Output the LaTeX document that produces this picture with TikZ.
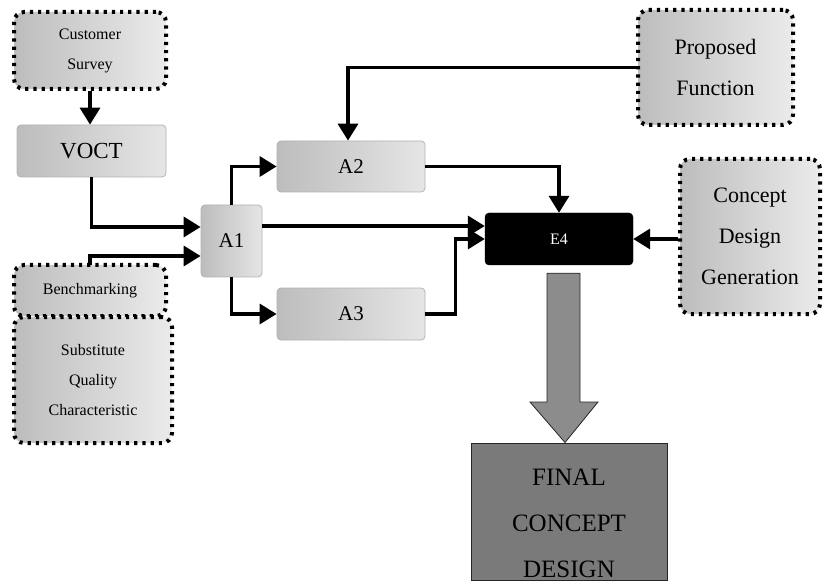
\documentclass[tikz,border=0pt]{standalone}
\usepackage{fontspec}
\setmainfont{Liberation Serif}
\usetikzlibrary{arrows.meta,shadings}
\definecolor{finalgray}{RGB}{122,122,122}
\definecolor{arrowgray}{RGB}{140,140,140}
\tikzset{
  dotbox/.style={draw=black, line width=4pt, dash pattern=on 3.2pt off 5pt, rounded corners=10pt,
    left color=gray!52, right color=gray!16, align=center, inner sep=0pt},
  solidbox/.style={draw=gray!60, line width=0.8pt, rounded corners=4pt,
    left color=gray!52, right color=gray!20, align=center, inner sep=0pt},
  blackbox/.style={draw=black, fill=black, rounded corners=4pt, text=white, inner sep=0pt},
  conn/.style={draw=black, line width=3.5pt, -{Triangle[length=17pt,width=20pt]}},
  small/.style={font=\fontsize{16}{30}\selectfont},
  mid/.style={font=\fontsize{22}{41}\selectfont},
  big/.style={font=\fontsize{25}{46}\selectfont}
}
\begin{document}
\begin{tikzpicture}[x=1pt,y=-1pt]
\useasboundingbox (0,0) rectangle (823,583);
% nodes
\node[dotbox, small, minimum width=152pt, minimum height=77pt] (cs) at (90,50.5) {Customer\\Survey};
\node[solidbox, font=\fontsize{23}{28}\selectfont, minimum width=149pt, minimum height=52pt] (voct) at (91.5,151) {VOCT};
\node[solidbox, font=\fontsize{21}{26}\selectfont, minimum width=61pt, minimum height=72pt] (a1) at (231.5,241) {A1};
\node[dotbox, small, minimum width=152pt, minimum height=51pt] (bm) at (90,290.5) {Benchmarking};
\node[dotbox, small, minimum width=158pt, minimum height=126pt] (sqc) at (93,380) {Substitute\\Quality\\Characteristic};
\node[solidbox, font=\fontsize{21}{26}\selectfont, minimum width=148pt, minimum height=51pt] (a2) at (351,166.5) {A2};
\node[solidbox, font=\fontsize{21}{26}\selectfont, minimum width=148pt, minimum height=52pt] (a3) at (351,314) {A3};
\node[blackbox, font=\fontsize{16}{19}\selectfont, minimum width=148pt, minimum height=52pt] (e4) at (559,239) {E4};
\node[dotbox, mid, minimum width=155pt, minimum height=115pt] (pf) at (715.5,67.5) {Proposed\\Function};
\node[dotbox, mid, minimum width=140pt, minimum height=155pt] (cdg) at (750,236.5) {Concept\\Design\\Generation};
\node[draw=black!85, line width=1pt, fill=finalgray, minimum width=196pt, minimum height=137pt, inner sep=0pt] (final) at (569,511.5) {};
\node[big, align=center, text=black, inner sep=0pt] (finaltxt) at (569,523) {FINAL\\CONCEPT\\DESIGN};
% connectors
\draw[conn] (cs.south) -- (cs.south |- voct.north);
\draw[conn] (voct.south) |- ([yshift=14pt]a1.west);
\draw[conn] ([yshift=-2pt]bm.north) |- ([yshift=-15pt]a1.west);
\draw[conn] (a1.north) |- (a2.west);
\draw[conn] (a1.south) |- (a3.west);
\draw[conn] ([yshift=15pt]a1.east) -- ([yshift=15pt]a1.east -| e4.west);
\draw[conn] (a3.east) -- ++(30,0) |- (e4.west);
\draw[conn] (a2.east) -| (e4.north);
\draw[conn] (pf.west) -| ([xshift=-3pt]a2.north);
\draw[conn] (cdg.west |- e4.east) -- (e4.east);
% big arrow from E4 to final
\draw[draw=black!85, line width=0.8pt, fill=arrowgray]
  ([xshift=-12pt,yshift=-8pt]e4.south) -- ([xshift=21pt,yshift=-8pt]e4.south)
  -- (580,402) -- (598,402) -- (final.north -| 565,0) -- (530,402) -- (547,402) -- cycle;
\end{tikzpicture}
\end{document}
